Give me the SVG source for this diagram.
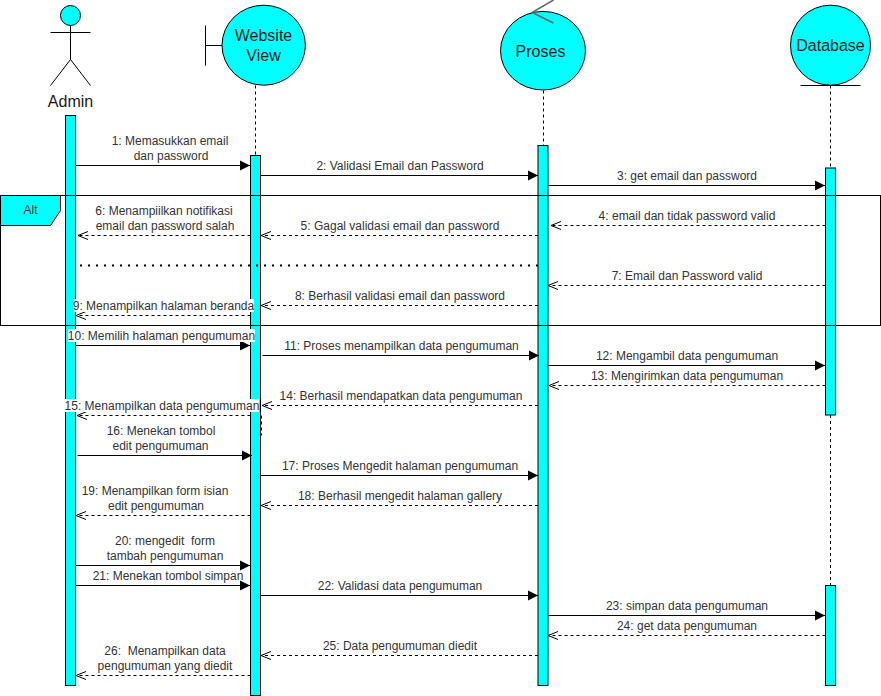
<svg xmlns="http://www.w3.org/2000/svg" width="881" height="696" viewBox="0 0 881 696">
<style>
text{font-family:"Liberation Sans",Arial,sans-serif;font-size:12px;fill:#333;text-anchor:middle;white-space:pre}
.big{font-size:16px;fill:#1a1a1a}
.sh{fill:#00ffff;stroke:#000;stroke-width:1}
.bar{fill:#00ffff;stroke:#000;stroke-width:1}
.ln{fill:none;stroke:#000;stroke-width:1}
.gr{fill:none;stroke:#666;stroke-width:1.500}
.life{fill:none;stroke:#000;stroke-width:1;stroke-dasharray:3 3}
.req{fill:none;stroke:#000;stroke-width:1;marker-end:url(#fill)}
.ret{fill:none;stroke:#000;stroke-width:1;stroke-dasharray:3 3;marker-end:url(#open)}
.bg{fill:#fff;stroke:none}
</style>
<defs>
<marker id="fill" markerUnits="userSpaceOnUse" markerWidth="14" markerHeight="14" refX="11" refY="7" orient="auto"><path d="M1 2L11 7L1 12Z" fill="#000"/></marker>
<marker id="open" markerUnits="userSpaceOnUse" markerWidth="14" markerHeight="14" refX="11" refY="7" orient="auto"><path d="M1 3L11 7L1 11" fill="none" stroke="#000"/></marker>
</defs>
<g id="lifelines">
<path class="life" d="M255.500 85.500V155.500M543.500 90.500V145.500M830.500 85.500V168M830.500 415V585"/>
</g>
<g id="node-admin">
<circle class="sh" cx="70.500" cy="15.500" r="10"/>
<path class="ln" d="M70.500 25.500V59.500M50.500 32.500H90.500M70.500 59.500L50.500 85.500M70.500 59.500L90.500 85.500"/>
<text class="big" x="70.500" y="107">Admin</text>
<rect class="bar" x="65.500" y="115.500" width="10" height="570"/>
</g>
<g id="node-website">
<path class="ln" d="M205.500 25.500V65.500M205.500 45.500H222"/>
<ellipse class="sh" cx="263.700" cy="45.200" rx="41.700" ry="40"/>
<text class="big" x="263.500" y="41">Website</text>
<text class="big" x="263.500" y="61">View</text>
<rect class="bar" x="250.500" y="155.500" width="10" height="540"/>
</g>
<g id="node-proses">
<ellipse class="sh" cx="543" cy="50.700" rx="42.500" ry="39.300"/>
<path class="gr" d="M553.500 0L532 12.500L553.500 23"/>
<text class="big" x="540.500" y="57">Proses</text>
<rect class="bar" x="538" y="145.500" width="10" height="540"/>
</g>
<g id="node-database">
<circle class="sh" cx="830.500" cy="45.200" r="40"/>
<path class="ln" d="M800.500 85.500H860.500"/>
<text class="big" x="830.500" y="51">Database</text>
<rect class="bar" x="825.500" y="168" width="10" height="247"/>
<rect class="bar" x="825.500" y="585.500" width="10" height="100"/>
</g>
<g id="node-alt">
<rect class="ln" x="0.500" y="195.500" width="880" height="130"/>
<path class="sh" d="M0.500 195.500H60.500V210.500L50.500 225.500H0.500Z"/>
<text x="30.500" y="214">Alt</text>
<path d="M80 265.500H538" fill="none" stroke="#000" stroke-width="2" stroke-dasharray="2 6"/>
</g>
<g id="connectors">
<path class="req" d="M75.500 165.500H250"/>
<path class="req" d="M260.500 175.500H538"/>
<path class="req" d="M548 185.500H825"/>
<path class="ret" d="M825.500 225.500H551"/>
<path class="ret" d="M538 235.500H261"/>
<path class="ret" d="M250.500 235.500H78"/>
<path class="ret" d="M825.500 285.500H548"/>
<path class="ret" d="M538 305.500H261"/>
<path class="ret" d="M250.500 315.500H76"/>
<path class="req" d="M75.500 345.500H250"/>
<path class="req" d="M262.500 355.500H539"/>
<path class="req" d="M548 365.500H825"/>
<path class="ret" d="M825.500 385.500H549"/>
<path class="ret" d="M538 405.500H262"/>
<path class="ret" d="M250.500 415.500H77"/>
<path class="life" d="M261.500 415.500V435.500"/>
<path class="req" d="M77.500 455.500H252"/>
<path class="req" d="M260.500 475.500H538"/>
<path class="ret" d="M538 505.500H261"/>
<path class="ret" d="M250.500 515.500H76"/>
<path class="req" d="M75.500 565.500H250"/>
<path class="req" d="M75.500 585.500H250"/>
<path class="req" d="M260.500 595.500H538"/>
<path class="req" d="M548 615.500H825"/>
<path class="ret" d="M825.500 635.500H548"/>
<path class="ret" d="M538 655.500H261"/>
<path class="ret" d="M250.500 675.500H76"/>
</g>
<g id="labels">
<text x="170" y="145">1: Memasukkan email</text>
<text x="171" y="160">dan password</text>
<text x="400" y="170">2: Validasi Email dan Password</text>
<text x="687" y="180">3: get email dan password</text>
<text x="687" y="220">4: email dan tidak password valid</text>
<text x="400" y="230">5: Gagal validasi email dan password</text>
<text x="164" y="215">6: Menampiilkan notifikasi</text>
<text x="165" y="230">email dan password salah</text>
<text x="687" y="280">7: Email dan Password valid</text>
<text x="400" y="300">8: Berhasil validasi email dan password</text>
<rect class="bg" x="73" y="299" width="181" height="13"/>
<text x="163.500" y="309.500">9: Menampilkan halaman beranda</text>
<rect class="bg" x="68" y="329" width="187" height="13"/>
<text x="161.500" y="340">10: Memilih halaman pengumuman</text>
<text x="401.500" y="350">11: Proses menampilkan data pengumuman</text>
<text x="687" y="360">12: Mengambil data pengumuman</text>
<text x="687" y="380">13: Mengirimkan data pengumuman</text>
<text x="401" y="400">14: Berhasil mendapatkan data pengumuman</text>
<rect class="bg" x="65" y="399" width="194" height="13"/>
<text x="162" y="410">15: Menampilkan data pengumuman</text>
<text x="161" y="435">16: Menekan tombol</text>
<text x="160.500" y="450">edit pengumuman</text>
<text x="400" y="470">17: Proses Mengedit halaman pengumuman</text>
<text x="400" y="500">18: Berhasil mengedit halaman gallery</text>
<text x="155" y="495">19: Menampilkan form isian</text>
<text x="156" y="510">edit pengumuman</text>
<text x="165" y="545">20: mengedit  form</text>
<text x="165" y="560">tambah pengumuman</text>
<text x="168" y="580">21: Menekan tombol simpan</text>
<text x="400" y="590">22: Validasi data pengumuman</text>
<text x="687" y="610">23: simpan data pengumuman</text>
<text x="687" y="630">24: get data pengumuman</text>
<text x="400" y="650">25: Data pengumuman diedit</text>
<text x="165" y="655">26:  Menampilkan data</text>
<text x="165" y="670">pengumuman yang diedit</text>
</g>
</svg>
